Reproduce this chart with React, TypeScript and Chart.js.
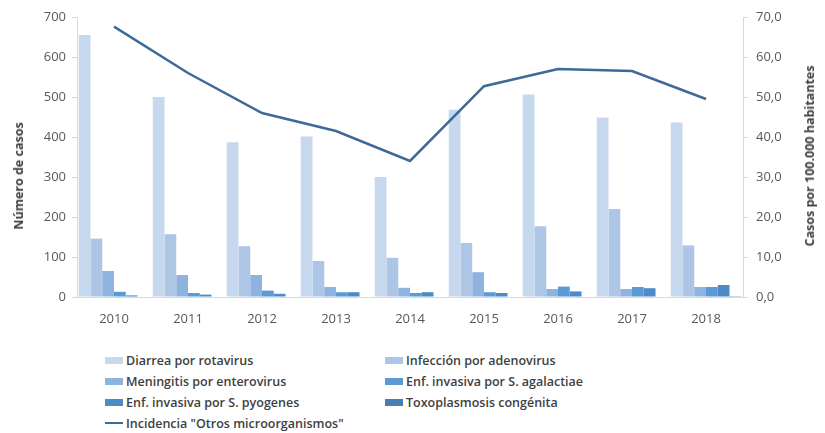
import React, { useEffect, useRef } from "react";
import { Chart, registerables } from "chart.js";

Chart.register(...registerables);

const years = ["2010", "2011", "2012", "2013", "2014", "2015", "2016", "2017", "2018"];
const diarreaRotavirus = [655, 500, 387, 401, 300, 468, 506, 449, 436];
const infeccionAdenovirus = [146, 157, 127, 90, 98, 135, 177, 220, 129];
const meningitisEnterovirus = [65, 55, 55, 25, 23, 62, 20, 20, 25];
const enfAgalactiae = [13, 10, 16, 12, 10, 12, 26, 25, 25];
const enfPyogenes = [4, 6, 8, 12, 12, 10, 14, 22, 30];
const toxoplasmosis = [0, 0, 0, 0, 0, 0, 0, 0, 2];
const incidenciaOtros = [67.6, 56.0, 46.0, 41.5, 34.0, 52.7, 57.0, 56.5, 49.5];

const leftTicks = [0, 100, 200, 300, 400, 500, 600, 700];
const rightTicks = [0, 10, 20, 30, 40, 50, 60, 70];

const barSeries = [
  { label: "Diarrea por rotavirus", data: diarreaRotavirus, color: "#C6D8EE" },
  { label: "Infección por adenovirus", data: infeccionAdenovirus, color: "#ADC6E6" },
  { label: "Meningitis por enterovirus", data: meningitisEnterovirus, color: "#8DB3DE" },
  { label: "Enf. invasiva por S. agalactiae", data: enfAgalactiae, color: "#5B9BD5" },
  { label: "Enf. invasiva por S. pyogenes", data: enfPyogenes, color: "#4D8BC6" },
  { label: "Toxoplasmosis congénita", data: toxoplasmosis, color: "#4A7DB3" },
];
const lineLabel = 'Incidencia "Otros microorganismos"';
const lineColor = "#3D6A98";

const W = 825;
const CH = 330;
const PLOT_LEFT = 77;
const PLOT_RIGHT = 743;
const PLOT_TOP = 17;
const PLOT_BOTTOM = 297;

const tickFont = { family: "'Open Sans', sans-serif", size: 13 };
const tickColor = "#595959";
const axisLine = "#D9D9D9";

export default function App() {
  const ref = useRef<HTMLCanvasElement | null>(null);
  useEffect(() => {
    if (!ref.current) return;
    const chart = new Chart(ref.current, {
      data: {
        labels: years,
        datasets: [
          {
            type: "line",
            label: lineLabel,
            data: incidenciaOtros,
            yAxisID: "y1",
            borderColor: lineColor,
            borderWidth: 2.5,
            pointRadius: 0,
            tension: 0,
            order: 0,
          } as any,
          ...barSeries.map((s) => ({
            type: "bar",
            label: s.label,
            data: s.data,
            yAxisID: "y",
            backgroundColor: s.color,
            borderWidth: 0,
            categoryPercentage: 0.953,
            barPercentage: 1,
            order: 1,
          })),
        ],
      },
      options: {
        animation: false,
        responsive: false,
        maintainAspectRatio: false,
        layout: { padding: { top: PLOT_TOP, left: 0, right: 0, bottom: 0 } },
        plugins: { legend: { display: false }, tooltip: { enabled: false } },
        scales: {
          x: {
            grid: { display: false },
            border: { display: true, color: axisLine, width: 1 },
            ticks: { font: tickFont, color: tickColor, padding: 6, maxRotation: 0 },
            afterFit: (s: any) => {
              s.height = CH - PLOT_BOTTOM;
            },
          },
          y: {
            position: "left",
            min: 0,
            max: 700,
            afterBuildTicks: (s: any) => {
              s.ticks = leftTicks.map((v) => ({ value: v }));
            },
            grid: { drawOnChartArea: false, color: axisLine, tickLength: 5 },
            border: { display: true, color: axisLine },
            ticks: { font: tickFont, color: tickColor, padding: 6 },
            afterFit: (s: any) => {
              s.width = PLOT_LEFT;
            },
          },
          y1: {
            position: "right",
            min: 0,
            max: 70,
            afterBuildTicks: (s: any) => {
              s.ticks = rightTicks.map((v) => ({ value: v }));
            },
            grid: { drawOnChartArea: false, color: axisLine, tickLength: 5 },
            border: { display: true, color: axisLine },
            ticks: {
              font: tickFont,
              color: tickColor,
              padding: 8,
              callback: (v: any) => Number(v).toFixed(1).replace(".", ","),
            },
            afterFit: (s: any) => {
              s.width = W - PLOT_RIGHT;
            },
          },
        },
      } as any,
    });
    return () => chart.destroy();
  }, []);

  const legendFont: React.CSSProperties = {
    fontFamily: "'Open Sans', sans-serif",
    fontWeight: 600,
    fontSize: 12.5,
    color: "#404040",
    whiteSpace: "nowrap",
  };
  const rows = [360, 381, 402, 423];
  const cols = [105, 385];
  const items: { label: string; color: string; line?: boolean }[] = [
    ...barSeries.map((s) => ({ label: s.label, color: s.color })),
    { label: lineLabel, color: lineColor, line: true },
  ];

  const titleStyle: React.CSSProperties = {
    position: "absolute",
    fontFamily: "'Open Sans', sans-serif",
    fontWeight: 700,
    fontSize: 12.5,
    color: "#404040",
    whiteSpace: "nowrap",
    transform: "translate(-50%, -50%) rotate(-90deg)",
    lineHeight: "16px",
  };

  return (
    <div style={{ position: "fixed", left: 0, top: 0, width: W, height: 433, background: "#fff" }}>
      <canvas ref={ref} width={W} height={CH} style={{ position: "absolute", left: 0, top: 0, width: W, height: CH }} />
      <div style={{ ...titleStyle, left: 19, top: 176 }}>Número de casos</div>
      <div style={{ ...titleStyle, left: 810, top: 156 }}>Casos por 100.000 habitantes</div>
      {items.map((it, i) => {
        const r = Math.floor(i / 2);
        const c = i % 2;
        const y = rows[r];
        const x = cols[c];
        return (
          <div key={i} style={{ position: "absolute", left: x, top: y - 9, height: 18, display: "flex", alignItems: "center", ...legendFont }}>
            {it.line ? (
              <span style={{ display: "inline-block", width: 18, height: 2.5, background: it.color, marginRight: 3 }} />
            ) : (
              <span style={{ display: "inline-block", width: 18, height: 7, background: it.color, marginRight: 3 }} />
            )}
            <span>{it.label}</span>
          </div>
        );
      })}
    </div>
  );
}
